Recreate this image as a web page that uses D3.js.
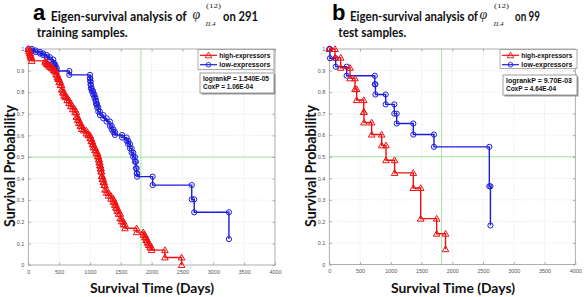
<!DOCTYPE html>
<html>
<head>
<meta charset="utf-8">
<script src="https://cdn.jsdelivr.net/npm/d3@7"></script>
<style>
  body { margin: 0; background: #fff; }
  svg { display: block; }
</style>
</head>
<body>
<svg id="drawing_region"></svg>
<script>
// ---- data ----
const xTicks = [0, 500, 1000, 1500, 2000, 2500, 3000, 3500, 4000];
const xTickLabels = ['0', '500', '1000', '1500', '2000', '2500', '3000', '3500', '4000'];
const yTicks = [0, 0.1, 0.2, 0.3, 0.4, 0.5, 0.6, 0.7, 0.8, 0.9, 1];
const yTickLabels = ['0', '0.1', '0.2', '0.3', '0.4', '0.5', '0.6', '0.7', '0.8', '0.9', '1'];

const seriesNames = ['high-expressors', 'low-expressors'];
const refTime = 1826;   // green vertical line (5 years)
const refSurv = 0.5;    // green horizontal line

// panel a : 291 training samples  (event time, survival after the event)
const aHighTime = [10, 20, 30, 40, 55, 275, 300, 320, 350, 380, 410, 432, 450, 470, 486, 500, 520, 540, 560, 580,
  600, 630, 660, 690, 720, 757, 780, 800, 820, 845, 865, 900, 940, 972, 1000, 1020, 1040, 1054, 1080, 1100,
  1125, 1140, 1150, 1160, 1170, 1180, 1189, 1200, 1215, 1230, 1243, 1270, 1300, 1340, 1378, 1400, 1420, 1440,
  1465, 1490, 1513, 1540, 1567, 1757, 1864, 1890, 1910, 1930, 1950, 1975, 2000, 2215, 2486];
const aHighSurv = [0.99, 0.98, 0.97, 0.96, 0.945, 0.938, 0.931, 0.924, 0.917, 0.910, 0.903, 0.896, 0.882, 0.868, 0.861,
  0.847, 0.833, 0.812, 0.798, 0.784, 0.777, 0.763, 0.749, 0.735, 0.721, 0.707, 0.686, 0.672, 0.658, 0.644, 0.630,
  0.623, 0.609, 0.601, 0.587, 0.573, 0.559, 0.545, 0.531, 0.517, 0.503, 0.489, 0.475, 0.461, 0.447, 0.433, 0.412,
  0.398, 0.384, 0.370, 0.349, 0.335, 0.321, 0.307, 0.293, 0.279, 0.265, 0.251, 0.237, 0.216, 0.202, 0.188, 0.170,
  0.152, 0.140, 0.128, 0.116, 0.104, 0.093, 0.081, 0.069, 0.035, 0.0];
const aLowTime = [60, 120, 190, 240, 300, 350, 405, 420, 440, 460, 665, 1000, 1005, 1010, 1015, 1030, 1050, 1070, 1090,
  1100, 1115, 1135, 1162, 1216, 1270, 1324, 1351, 1380, 1405, 1520, 1594, 1620, 1648, 1675, 1702, 1729, 1745, 1757,
  1765, 2016, 2650, 2690, 3253];
const aLowSurv = [0.993, 0.986, 0.979, 0.972, 0.962, 0.951, 0.934, 0.925, 0.912, 0.898, 0.88, 0.864, 0.85, 0.835, 0.818,
  0.805, 0.79, 0.775, 0.76, 0.745, 0.73, 0.71, 0.694, 0.679, 0.664, 0.644, 0.628, 0.615, 0.602, 0.59, 0.575, 0.56,
  0.54, 0.52, 0.5, 0.478, 0.448, 0.424, 0.409, 0.37, 0.304, 0.244, 0.12];

// panel b : 99 test samples
const bHighTime = [93, 185, 337, 418, 445, 560, 564, 689, 852, 922, 1062, 1366, 1486, 1746, 1890];
const bHighSurv = [0.96, 0.913, 0.864, 0.814, 0.763, 0.708, 0.659, 0.603, 0.553, 0.484, 0.425, 0.355, 0.213, 0.143, 0.071];
const bLowTime = [11, 104, 282, 740, 750, 917, 1057, 1096, 1366, 1702, 2602, 2620];
const bLowSurv = [0.957, 0.918, 0.876, 0.836, 0.789, 0.743, 0.70, 0.654, 0.603, 0.546, 0.363, 0.181];

const statsA = ['logrankP = 1.540E-05', 'CoxP = 1.06E-04'];
const statsB = ['logrankP = 9.70E-03', 'CoxP = 4.64E-04'];

// ---- drawing ----
const svg = d3.select('#drawing_region').attr('width', 584).attr('height', 297);

const RED = '#f01010';
const BLUE = '#1c1ce0';

const panels = [
  {
    left: 28.3, right: 275, top: 49, bottom: 265,
    letter: 'a', letterX: 33, headX: 50.7, headLen: 136, phiX: 192.5, supX: 206, subX: 205.5,
    tail: 'on 291', tailX: 223, tailLen: 35, line2: 'training samples.', line2X: 36.7, line2Len: 91,
    high: [aHighTime, aHighSurv], low: [aLowTime, aLowSurv], stats: statsA,
    legX: 198, legW: 76, legH: 20, statX: 200, statY: 73, statW: 74, statH: 20
  },
  {
    left: 329.3, right: 575.3, top: 49, bottom: 264.5,
    letter: 'b', letterX: 332, headX: 350, headLen: 128, phiX: 479.5, supX: 494, subX: 493.5,
    tail: 'on 99', tailX: 515, tailLen: 25, line2: 'test samples.', line2X: 338.3, line2Len: 68,
    high: [bHighTime, bHighSurv], low: [bLowTime, bLowSurv], stats: statsB,
    legX: 500, legW: 77, legH: 19, statX: 503, statY: 75, statW: 74, statH: 20
  }
];

function stairs(times, survs) {
  let pts = [[0, 1]];
  let prev = 1;
  times.forEach((t, i) => {
    pts.push([t, prev]);
    pts.push([t, survs[i]]);
    prev = survs[i];
  });
  return pts;
}

panels.forEach(p => {
  const g = svg.append('g');
  const x = d3.scaleLinear().domain([0, 4000]).range([p.left, p.right]);
  const y = d3.scaleLinear().domain([0, 1]).range([p.bottom, p.top]);

  // white plot area + grid
  g.append('rect')
    .attr('x', p.left).attr('y', p.top)
    .attr('width', p.right - p.left).attr('height', p.bottom - p.top)
    .attr('fill', '#fff');

  g.append('g').selectAll('line').data(xTicks.slice(1, -1)).enter().append('line')
    .attr('x1', d => x(d)).attr('x2', d => x(d))
    .attr('y1', p.top).attr('y2', p.bottom)
    .attr('stroke', '#d4d4d4').attr('stroke-width', 0.6).attr('stroke-dasharray', '1,1.5');
  g.append('g').selectAll('line').data(yTicks.slice(1, -1)).enter().append('line')
    .attr('x1', p.left).attr('x2', p.right)
    .attr('y1', d => y(d)).attr('y2', d => y(d))
    .attr('stroke', '#d4d4d4').attr('stroke-width', 0.6).attr('stroke-dasharray', '1,1.5');

  // green reference lines
  g.append('line')
    .attr('x1', x(refTime)).attr('x2', x(refTime)).attr('y1', p.top).attr('y2', p.bottom)
    .attr('stroke', '#9ee89e').attr('stroke-width', 1);
  g.append('line')
    .attr('x1', p.left).attr('x2', p.right).attr('y1', y(refSurv)).attr('y2', y(refSurv))
    .attr('stroke', '#9ee89e').attr('stroke-width', 1);

  // axes
  const xaxis = d3.axisBottom(x).tickValues(xTicks)
    .tickFormat((d, i) => xTickLabels[i]).tickSize(-2.5).tickPadding(5).tickSizeOuter(0);
  const yaxis = d3.axisLeft(y).tickValues(yTicks)
    .tickFormat((d, i) => yTickLabels[i]).tickSize(-2.5).tickPadding(4).tickSizeOuter(0);
  const xtop = d3.axisTop(x).tickValues(xTicks).tickFormat('').tickSize(-2.5).tickSizeOuter(0);
  const yright = d3.axisRight(y).tickValues(yTicks).tickFormat('').tickSize(-2.5).tickSizeOuter(0);

  [[xaxis, `translate(0,${p.bottom})`], [yaxis, `translate(${p.left},0)`],
   [xtop, `translate(0,${p.top})`], [yright, `translate(${p.right},0)`]].forEach(([ax, tr]) => {
    const ag = g.append('g').attr('transform', tr).call(ax);
    ag.select('.domain').remove();
    ag.selectAll('line').attr('stroke', '#777').attr('stroke-width', 0.6);
    ag.selectAll('text').attr('fill', '#555').attr('font-size', '5.5px')
      .attr('font-family', 'Liberation Sans, Arial, sans-serif');
  });

  g.append('rect')
    .attr('x', p.left).attr('y', p.top)
    .attr('width', p.right - p.left).attr('height', p.bottom - p.top)
    .attr('fill', 'none').attr('stroke', '#9a9a9a').attr('stroke-width', 0.8);

  // curves
  const line = d3.line().x(d => x(d[0])).y(d => y(d[1]));
  const tri = d3.symbol().type(d3.symbolTriangle).size(19);

  const hi = stairs(p.high[0], p.high[1]);
  const lo = stairs(p.low[0], p.low[1]);

  g.append('path').datum(lo).attr('d', line)
    .attr('fill', 'none').attr('stroke', BLUE).attr('stroke-width', 1.4);
  g.append('g').selectAll('circle').data(lo).enter().append('circle')
    .attr('cx', d => x(d[0])).attr('cy', d => y(d[1])).attr('r', 2.6)
    .attr('fill', 'none').attr('stroke', BLUE).attr('stroke-width', 1);

  g.append('path').datum(hi).attr('d', line)
    .attr('fill', 'none').attr('stroke', RED).attr('stroke-width', 1.4);
  g.append('g').selectAll('path').data(hi).enter().append('path')
    .attr('d', tri)
    .attr('transform', d => `translate(${x(d[0])},${y(d[1]) + 0.6})`)
    .attr('fill', 'none').attr('stroke', RED).attr('stroke-width', 1);

  // legend
  const leg = g.append('g');
  leg.append('rect')
    .attr('x', p.legX).attr('y', p.top + 0.5).attr('width', p.legW).attr('height', p.legH)
    .attr('fill', '#fff').attr('stroke', '#888').attr('stroke-width', 0.7);
  seriesNames.forEach((name, i) => {
    const ly = p.top + 6.3 + i * 9.4;
    const col = i === 0 ? RED : BLUE;
    leg.append('line')
      .attr('x1', p.legX + 2).attr('x2', p.legX + 19).attr('y1', ly).attr('y2', ly)
      .attr('stroke', col).attr('stroke-width', 1.2);
    if (i === 0) {
      leg.append('path').attr('d', tri).attr('transform', `translate(${p.legX + 10.5},${ly + 0.6})`)
        .attr('fill', 'none').attr('stroke', col).attr('stroke-width', 0.9);
    } else {
      leg.append('circle').attr('cx', p.legX + 10.5).attr('cy', ly).attr('r', 2.3)
        .attr('fill', 'none').attr('stroke', col).attr('stroke-width', 0.9);
    }
    leg.append('text')
      .attr('x', p.legX + 21.3).attr('y', ly + 2.5)
      .attr('font-family', 'Liberation Sans, Arial, sans-serif')
      .attr('font-weight', 'bold').attr('font-size', '7.5px').attr('fill', '#111')
      .attr('textLength', 51).attr('lengthAdjust', 'spacingAndGlyphs')
      .text(name);
  });

  // stats box with shadow
  g.append('rect')
    .attr('x', p.statX + 1.5).attr('y', p.statY + 1.5).attr('width', p.statW).attr('height', p.statH)
    .attr('fill', '#9a9a9a');
  g.append('rect')
    .attr('x', p.statX).attr('y', p.statY).attr('width', p.statW).attr('height', p.statH)
    .attr('fill', '#fff').attr('stroke', '#777').attr('stroke-width', 0.7);
  p.stats.forEach((s, i) => {
    g.append('text')
      .attr('x', p.statX + 3).attr('y', p.statY + 8 + i * 7.5)
      .attr('font-family', 'Liberation Sans, Arial, sans-serif')
      .attr('font-weight', 'bold').attr('font-size', '7px').attr('fill', '#111')
      .attr('textLength', i === 0 ? 66 : 50).attr('lengthAdjust', 'spacingAndGlyphs')
      .text(s);
  });

  // axis titles
  g.append('text')
    .attr('x', p.left + 61.7).attr('y', 292.5)
    .attr('font-family', 'Lato, Open Sans, sans-serif').attr('font-weight', 'bold')
    .attr('font-size', '14px').attr('fill', '#111')
    .attr('textLength', 124).attr('lengthAdjust', 'spacingAndGlyphs')
    .text('Survival Time (Days)');
  g.append('text')
    .attr('transform', `translate(${p.left - 13.5},227) rotate(-90)`)
    .attr('font-family', 'Lato, Open Sans, sans-serif').attr('font-weight', 'bold')
    .attr('font-size', '15px').attr('fill', '#111')
    .attr('textLength', 122).attr('lengthAdjust', 'spacingAndGlyphs')
    .text('Survival  Probability');

  // panel heading
  const h = svg.append('g');
  h.append('text').attr('x', p.letterX).attr('y', 20)
    .attr('font-family', 'Liberation Sans, Arial, sans-serif').attr('font-weight', 'bold')
    .attr('font-size', '22px').attr('fill', '#000').text(p.letter);
  h.append('text').attr('x', p.headX).attr('y', 21)
    .attr('font-family', 'Lato, Open Sans, sans-serif').attr('font-weight', 'bold')
    .attr('font-size', '13.5px').attr('fill', '#111')
    .attr('textLength', p.headLen).attr('lengthAdjust', 'spacingAndGlyphs')
    .text('Eigen-survival analysis of');
  h.append('text').attr('x', p.phiX).attr('y', 19)
    .attr('font-family', 'Liberation Serif, Times New Roman, serif').attr('font-style', 'italic')
    .attr('font-size', '14px').attr('fill', '#222').text('φ');
  h.append('text').attr('x', p.supX).attr('y', 8)
    .attr('font-family', 'Liberation Serif, Times New Roman, serif')
    .attr('font-size', '7px').attr('fill', '#222')
    .attr('textLength', 15).attr('lengthAdjust', 'spacingAndGlyphs')
    .text('(12)');
  h.append('text').attr('x', p.subX).attr('y', 25.5)
    .attr('font-family', 'Liberation Serif, Times New Roman, serif').attr('font-style', 'italic')
    .attr('font-size', '5.5px').attr('fill', '#222')
    .attr('textLength', 10).attr('lengthAdjust', 'spacingAndGlyphs')
    .text('IL4');
  h.append('text').attr('x', p.tailX).attr('y', 21)
    .attr('font-family', 'Lato, Open Sans, sans-serif').attr('font-weight', 'bold')
    .attr('font-size', '13.5px').attr('fill', '#111')
    .attr('textLength', p.tailLen).attr('lengthAdjust', 'spacingAndGlyphs')
    .text(p.tail);
  h.append('text').attr('x', p.line2X).attr('y', 36.7)
    .attr('font-family', 'Lato, Open Sans, sans-serif').attr('font-weight', 'bold')
    .attr('font-size', '13.5px').attr('fill', '#111')
    .attr('textLength', p.line2Len).attr('lengthAdjust', 'spacingAndGlyphs')
    .text(p.line2);
});
</script>
</body>
</html>
